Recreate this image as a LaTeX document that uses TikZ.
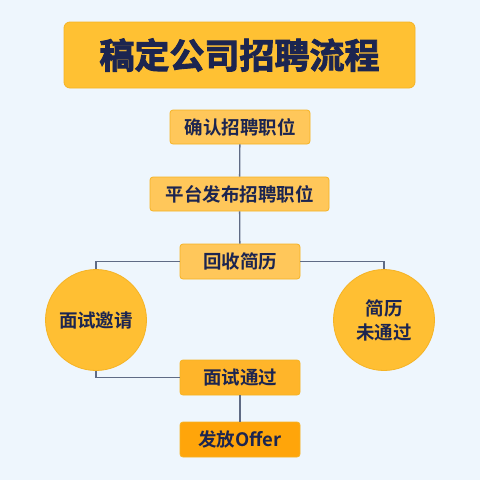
\documentclass[tikz,border=0pt]{standalone}
\usepackage{fontspec}
\setmainfont{Noto Sans CJK SC}[BoldFont=* Bold]
\newfontfamily\titlefont{Noto Sans CJK SC}[UprightFont=* Bold,FakeBold=2.5]
\definecolor{bg}{HTML}{EEF6FD}
\definecolor{ink}{HTML}{1C2550}
\definecolor{lineC}{HTML}{5F6B85}
\definecolor{titleF}{HTML}{FFC133}
\definecolor{titleD}{HTML}{F5B324}
\definecolor{boxA}{HTML}{FFC75A}
\definecolor{boxB}{HTML}{FFB52A}
\definecolor{boxC}{HTML}{FFA50A}
\definecolor{circF}{HTML}{FFBF33}
\tikzset{
  x=1pt,y=-1pt,
  stepbox/.style={draw=titleD,line width=0.8pt,rounded corners=3pt,text=ink,font=\fontsize{18.5}{20}\selectfont\bfseries,inner sep=0pt,anchor=center},
  circ/.style={circle,draw=titleD,line width=0.8pt,fill=circF,minimum size=101pt,inner sep=0pt,text=ink,font=\fontsize{18.5}{24}\selectfont\bfseries,align=center},
  conn/.style={draw=lineC,line width=1.3pt},
}
\begin{document}
\begin{tikzpicture}
\fill[bg] (0,0) rectangle (480,480);
\useasboundingbox (0,0) rectangle (480,480);
\node[draw=titleD,fill=titleF,line width=0.8pt,rounded corners=6pt,minimum width=351pt,minimum height=66pt,inner sep=0pt,text=ink,font=\fontsize{35}{36}\selectfont\titlefont] (title) at (239.5,55) {稿定公司招聘流程};
\node[stepbox,fill=boxA,minimum width=140pt,minimum height=34pt] (s1) at (240,127) {确认招聘职位};
\node[stepbox,fill=boxA,minimum width=179pt,minimum height=34pt] (s2) at (239.5,194) {平台发布招聘职位};
\node[stepbox,fill=boxA,minimum width=120pt,minimum height=35pt] (s3) at (240,261.5) {回收简历};
\node[circ] (c1) at (96,320) {面试邀请};
\node[circ] (c2) at (384,320) {简历\\未通过};
\node[stepbox,fill=boxB,minimum width=120pt,minimum height=35pt] (s4) at (240,377.5) {面试通过};
\node[stepbox,fill=boxC,minimum width=120pt,minimum height=35pt] (s5) at (240,439.5) {发放Offer};
\draw[conn] (s1) -- (s2);
\draw[conn] (s2) -- (s3);
\draw[conn] (s3.west) -| (c1.north);
\draw[conn] (s3.east) -| (c2.north);
\draw[conn] (c1.south) |- (s4.west);
\draw[conn] (s4) -- (s5);
\end{tikzpicture}
\end{document}
